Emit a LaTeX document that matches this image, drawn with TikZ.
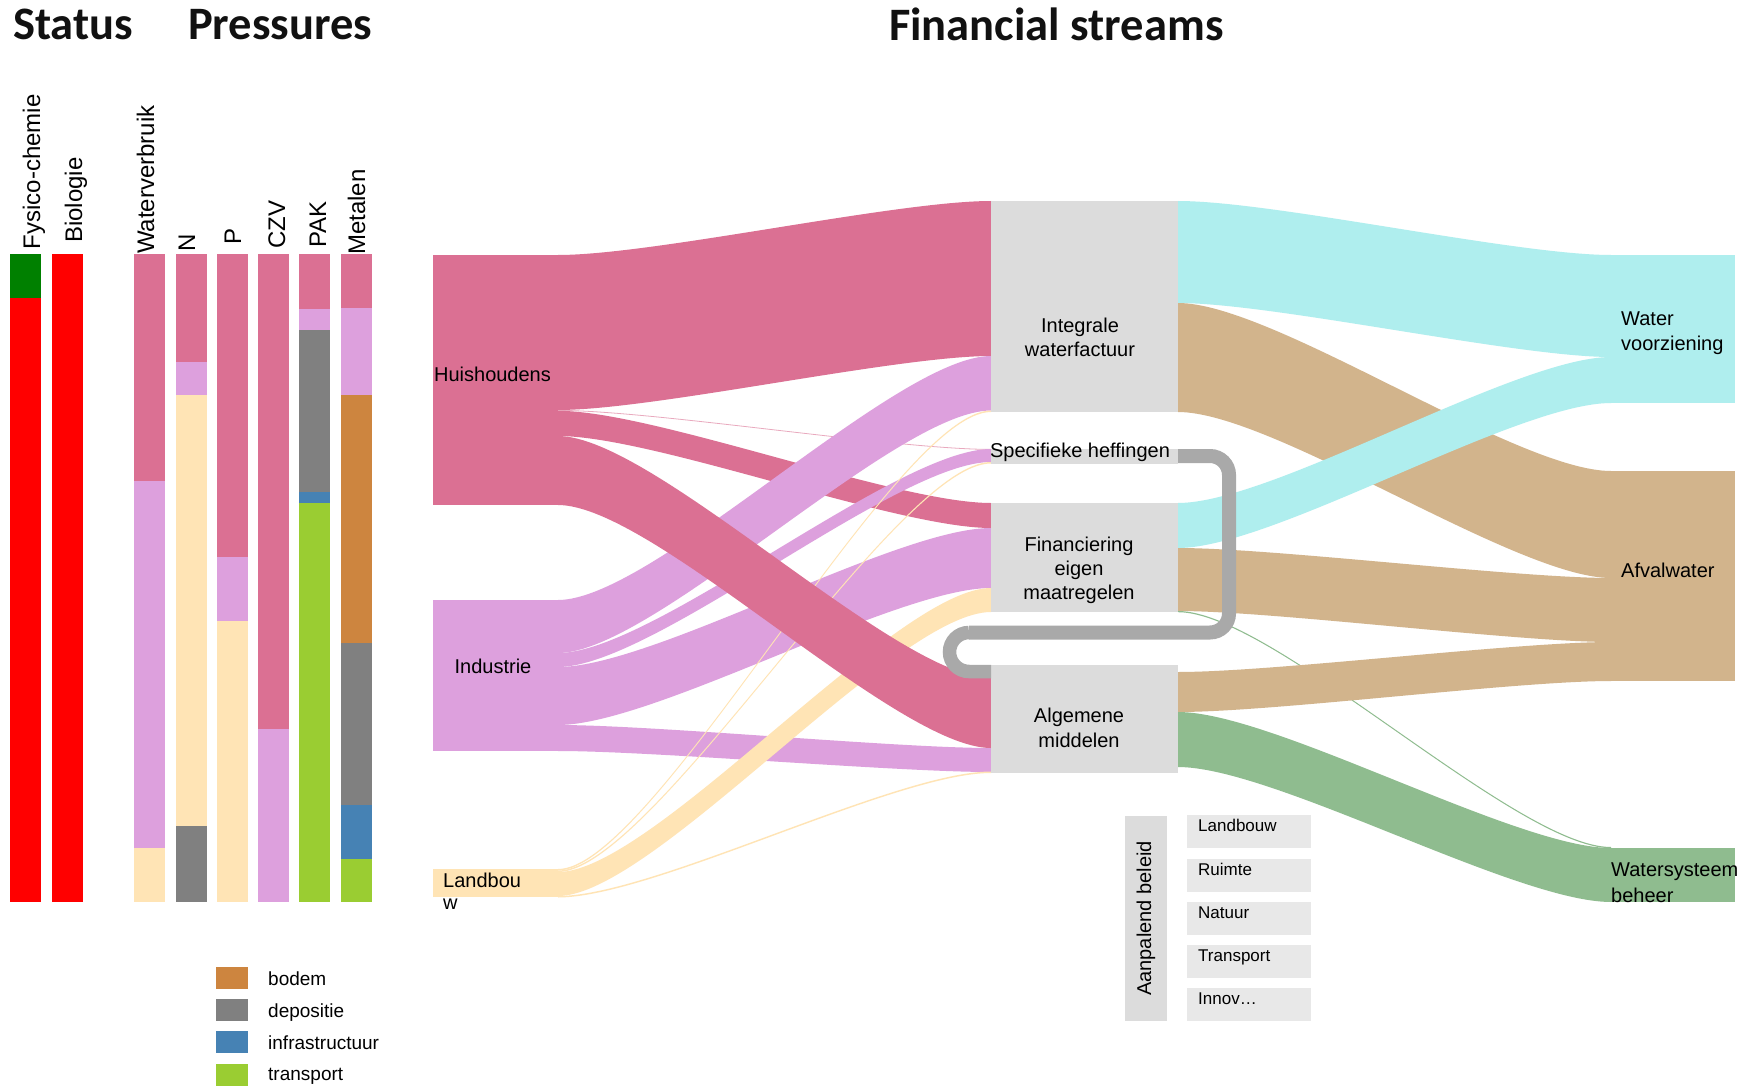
\documentclass[tikz,border=0pt]{standalone}
\usepackage{fontspec}
\setmainfont{Liberation Sans}
\newfontfamily\titlefont{Carlito}
\definecolor{cpink}{HTML}{DB7093}
\definecolor{clilac}{HTML}{DDA0DD}
\definecolor{ccream}{HTML}{FFE4B5}
\definecolor{ccyan}{HTML}{AFEEEE}
\definecolor{ctan}{HTML}{D2B48C}
\definecolor{cgreen}{HTML}{8FBC8F}
\definecolor{cbox}{HTML}{DCDCDC}
\definecolor{cboxl}{HTML}{E8E8E8}
\definecolor{cloop}{HTML}{A9A9A9}
\definecolor{cperu}{HTML}{CD853F}
\definecolor{cdepo}{HTML}{808080}
\definecolor{cinfra}{HTML}{4682B4}
\definecolor{ctrans}{HTML}{9ACD32}
\definecolor{sgreen}{HTML}{008000}
\definecolor{sred}{HTML}{FF0000}
\definecolor{ctitle}{HTML}{111111}
\newcommand\band[7]{%
  \pgfmathsetmacro\bcxa{#2+0.22*(#5-#2)}%
  \pgfmathsetmacro\bcxb{#5-0.22*(#5-#2)}%
  \fill[#1] (#2,#3) .. controls (\bcxa,#3) and (\bcxb,#6) .. (#5,#6) -- (#5,#7) .. controls (\bcxb,#7) and (\bcxa,#4) .. (#2,#4) -- cycle;}
\newcommand\barseg[4]{\fill[#1] (#2,#3) rectangle ({#2+31},#4);}
\tikzset{
  box/.style={inner sep=0, outer sep=0, draw=none, anchor=north west},
  lbl/.style={inner sep=0, text=black, font=\fontsize{20}{24}\selectfont},
  rlbl/.style={inner sep=0, text=black, font=\fontsize{24}{28}\selectfont, rotate=90, anchor=base west},
  leg/.style={inner sep=0, text=black, font=\fontsize{19}{23}\selectfont, anchor=base west},
  small/.style={inner sep=0, text=black, font=\fontsize{17}{20}\selectfont, anchor=base west},
  ttl/.style={inner sep=0, text=ctitle, anchor=base west, font={\titlefont\bfseries\fontsize{46.5}{50}\selectfont}},
}
\begin{document}
\begin{tikzpicture}[x=1pt,y=-1pt]
\fill[white] (0,0) rectangle (1750,1086);
\useasboundingbox (0,0) rectangle (1750,1086);

% titles
\node[ttl] (tstatus) at (13,40) {Status};
\node[ttl] (tpress) at (188,40) {Pressures};
\node[ttl] (tfin) at (889,41) {Financial streams};

% status bars
\barseg{sgreen}{10}{254}{298}
\barseg{sred}{10}{298}{902}
\barseg{sred}{52}{254}{902}
\node[rlbl] (lfy) at (40,249.5) {Fysico-chemie};
\node[rlbl] (lbio) at (82,243) {Biologie};

% pressure bars
\barseg{cpink}{134}{254}{481}
\barseg{clilac}{134}{481}{848}
\barseg{ccream}{134}{848}{902}
\barseg{cpink}{176}{254}{362}
\barseg{clilac}{176}{362}{395}
\barseg{ccream}{176}{395}{826}
\barseg{cdepo}{176}{826}{902}
\barseg{cpink}{217}{254}{557}
\barseg{clilac}{217}{557}{621}
\barseg{ccream}{217}{621}{902}
\barseg{cpink}{258}{254}{729}
\barseg{clilac}{258}{729}{902}
\barseg{cpink}{299}{254}{309}
\barseg{clilac}{299}{309}{330}
\barseg{cdepo}{299}{330}{492}
\barseg{cinfra}{299}{492}{503}
\barseg{ctrans}{299}{503}{902}
\barseg{cpink}{341}{254}{308}
\barseg{clilac}{341}{308}{395}
\barseg{cperu}{341}{395}{643}
\barseg{cdepo}{341}{643}{805}
\barseg{cinfra}{341}{805}{859}
\barseg{ctrans}{341}{859}{902}
\node[rlbl] (lwv) at (154,254) {Waterverbruik};
\node[rlbl] (ln) at (195,252) {N};
\node[rlbl] (lp) at (241,245) {P};
\node[rlbl] (lczv) at (285,249) {CZV};
\node[rlbl] (lpak) at (326,248) {PAK};
\node[rlbl] (lmet) at (365,255) {Metalen};

% legend
\fill[cperu] (216,967) rectangle (248,989);
\fill[cdepo] (216,999) rectangle (248,1021);
\fill[cinfra] (216,1031) rectangle (248,1053);
\fill[ctrans] (216,1064) rectangle (248,1086);
\node[leg] (lg1) at (268,985) {bodem};
\node[leg] (lg2) at (268,1017) {depositie};
\node[leg] (lg3) at (268,1049) {infrastructuur};
\node[leg] (lg4) at (268,1080) {transport};

% ---- flows left column
\band{cpink}{558}{255}{410}{991}{201}{356}
\band{cpink!60}{558}{410}{410.8}{991}{449}{449.8}
\band{cpink}{558}{410.8}{436}{991}{503}{528}
\band{clilac}{558}{600}{653}{991}{356}{410.5}
\band{clilac}{558}{653}{667}{991}{449}{462}
\band{clilac}{558}{667}{725}{991}{528}{588}
\band{clilac}{558}{725}{751}{991}{748}{772}
\band{ccream}{558}{869}{870.5}{991}{410.5}{412}
\band{ccream}{558}{870.5}{872}{991}{462}{463.5}
\band{ccream}{558}{872}{896}{991}{588}{612}
\band{ccream}{558}{896}{897.5}{991}{771.5}{773}
\band{cpink}{558}{436}{505}{991}{678}{748}

% ---- flows right column
\band{ccyan}{1178}{201}{303}{1611}{255}{357}
\band{ctan}{1178}{303}{412}{1611}{471}{578}
\band{ccyan}{1178}{503}{548}{1611}{357}{403}
\band{ctan}{1178}{548}{611}{1611}{578}{642}
\band{cgreen}{1178}{611}{612.2}{1611}{847}{848.2}
\band{ctan}{1178}{672}{712}{1611}{642}{681}
\band{cgreen}{1178}{712}{767}{1611}{848}{902}

% ---- nodes
\node[box, fill=cpink, minimum width=125pt, minimum height=250.5pt] (hh) at (433,254.5) {};
\node[box, fill=clilac, minimum width=125pt, minimum height=151pt] (ind) at (433,600) {};
\node[box, fill=ccream, minimum width=125pt, minimum height=28pt] (lb) at (433,869) {};
\node[box, fill=cbox, minimum width=187pt, minimum height=211pt] (integ) at (991,201) {};
\node[box, fill=cbox, minimum width=187pt, minimum height=15pt] (spec) at (991,449) {};
\node[box, fill=cbox, minimum width=187pt, minimum height=109pt] (fin) at (991,503) {};
\node[box, fill=cbox, minimum width=187pt, minimum height=108pt] (alg) at (991,665) {};
\node[box, fill=ccyan, minimum width=124pt, minimum height=148pt] (wv) at (1611,255) {};
\node[box, fill=ctan, minimum width=124pt, minimum height=210pt] (afv) at (1611,471) {};
\node[box, fill=cgreen, minimum width=124pt, minimum height=54pt] (ws) at (1611,848) {};

% loop Specifieke heffingen -> Algemene middelen
\draw[cloop, line width=14pt, rounded corners=19pt] (spec.east) ++(0,-0.5) -- (1229,456) -- (1229,632.5) -- (969,632.5);
\draw[cloop, line width=13.5pt] (969,632.5) arc (270:90:19.5) -- (alg.west |- 0,671.5);

% labels of nodes
\node[lbl, anchor=base] at (492.5,381.5) {Huishoudens};
\node[lbl, anchor=base] at (493,673) {Industrie};
\node[lbl, anchor=base west] at (443,887) {Landbou};
\node[lbl, anchor=base west] at (443,909) {w};
\node[lbl, anchor=base] at (1080,332) {Integrale};
\node[lbl, anchor=base] at (1080,356) {waterfactuur};
\node[lbl, anchor=base] at (1080,457) {Specifieke heffingen};
\node[lbl, anchor=base] at (1079,551) {Financiering};
\node[lbl, anchor=base] at (1079,575) {eigen};
\node[lbl, anchor=base] at (1079,599) {maatregelen};
\node[lbl, anchor=base] at (1079,722) {Algemene};
\node[lbl, anchor=base] at (1079,747) {middelen};
\node[lbl, anchor=base west] at (1621,325) {Water};
\node[lbl, anchor=base west] at (1621,350) {voorziening};
\node[lbl, anchor=base west] at (1621,577) {Afvalwater};
\node[lbl, anchor=base west] at (1611,876) {Watersysteem};
\node[lbl, anchor=base west] at (1611,902) {beheer};

% Aanpalend beleid
\node[box, fill=cbox, minimum width=42pt, minimum height=205pt] (aan) at (1125,816) {};
\node[lbl, rotate=90] at (aan.center) {Aanpalend beleid};
\node[box, fill=cboxl, minimum width=124pt, minimum height=33pt] (ab1) at (1187,815) {};
\node[box, fill=cboxl, minimum width=124pt, minimum height=33pt] (ab2) at (1187,859) {};
\node[box, fill=cboxl, minimum width=124pt, minimum height=33pt] (ab3) at (1187,902) {};
\node[box, fill=cboxl, minimum width=124pt, minimum height=33pt] (ab4) at (1187,945) {};
\node[box, fill=cboxl, minimum width=124pt, minimum height=33pt] (ab5) at (1187,988) {};
\node[small] at (1198,831.5) {Landbouw};
\node[small] at (1198,875) {Ruimte};
\node[small] at (1198,918) {Natuur};
\node[small] at (1198,961) {Transport};
\node[small] at (1198,1004) {Innov…};
\end{tikzpicture}
\end{document}
